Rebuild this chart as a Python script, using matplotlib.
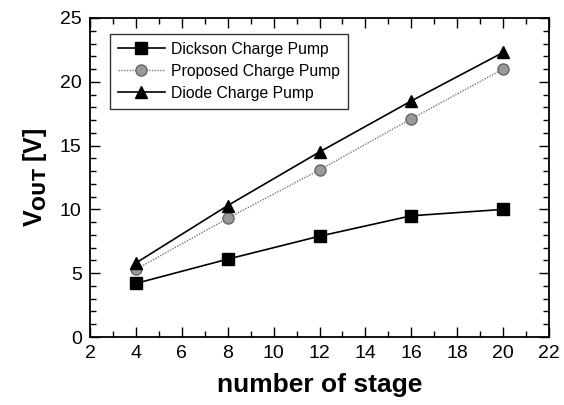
import matplotlib
matplotlib.use("Agg")
import matplotlib.pyplot as plt
from matplotlib.ticker import MultipleLocator

stages = [4, 8, 12, 16, 20]
dickson = [4.2, 6.1, 7.9, 9.5, 10.0]
proposed = [5.3, 9.3, 13.1, 17.1, 21.0]
diode = [5.8, 10.3, 14.5, 18.5, 22.3]

plt.rcParams['font.family'] = ['Liberation Sans', 'DejaVu Sans']

fig = plt.figure(figsize=(5.64, 4.05), dpi=100)
ax = fig.add_axes([90/564, 1-337/405, (549-90)/564, (337-18)/405])

ax.plot(stages, dickson, color='black', lw=1.2, marker='s', ms=8, mfc='black', mec='black',
        label='Dickson Charge Pump')
ax.plot(stages, proposed, color='#777777', lw=1.0, ls=(0, (1, 1)), marker='o', ms=8,
        mfc='#999999', mec='#666666', label='Proposed Charge Pump')
ax.plot(stages, diode, color='black', lw=1.2, marker='^', ms=9, mfc='black', mec='black',
        label='Diode Charge Pump')

ax.set_xlim(2, 22)
ax.set_ylim(0, 25)
ax.xaxis.set_major_locator(MultipleLocator(2))
ax.xaxis.set_minor_locator(MultipleLocator(1))
ax.yaxis.set_major_locator(MultipleLocator(5))
ax.yaxis.set_minor_locator(MultipleLocator(1))
ax.tick_params(which='both', direction='in', top=True, right=True, labelsize=14, width=1)
ax.tick_params(which='major', length=7, pad=6)
ax.tick_params(which='minor', length=4)
for s in ax.spines.values():
    s.set_linewidth(1.3)

ax.set_xlabel('number of stage', fontsize=19, fontweight='bold', labelpad=8)
ax.set_ylabel(r'V$_{\mathbf{OUT}}$ [V]', fontsize=18, fontweight='bold', labelpad=8)

leg = ax.legend(loc='upper left', bbox_to_anchor=(20/459, 0.95), frameon=True, fancybox=False,
                edgecolor='black', fontsize=11.3, handlelength=3, borderpad=0.5,
                labelspacing=0.45, handletextpad=0.4, borderaxespad=0)
leg.get_frame().set_linewidth(1.0)

fig.savefig('out.png', dpi=100)
